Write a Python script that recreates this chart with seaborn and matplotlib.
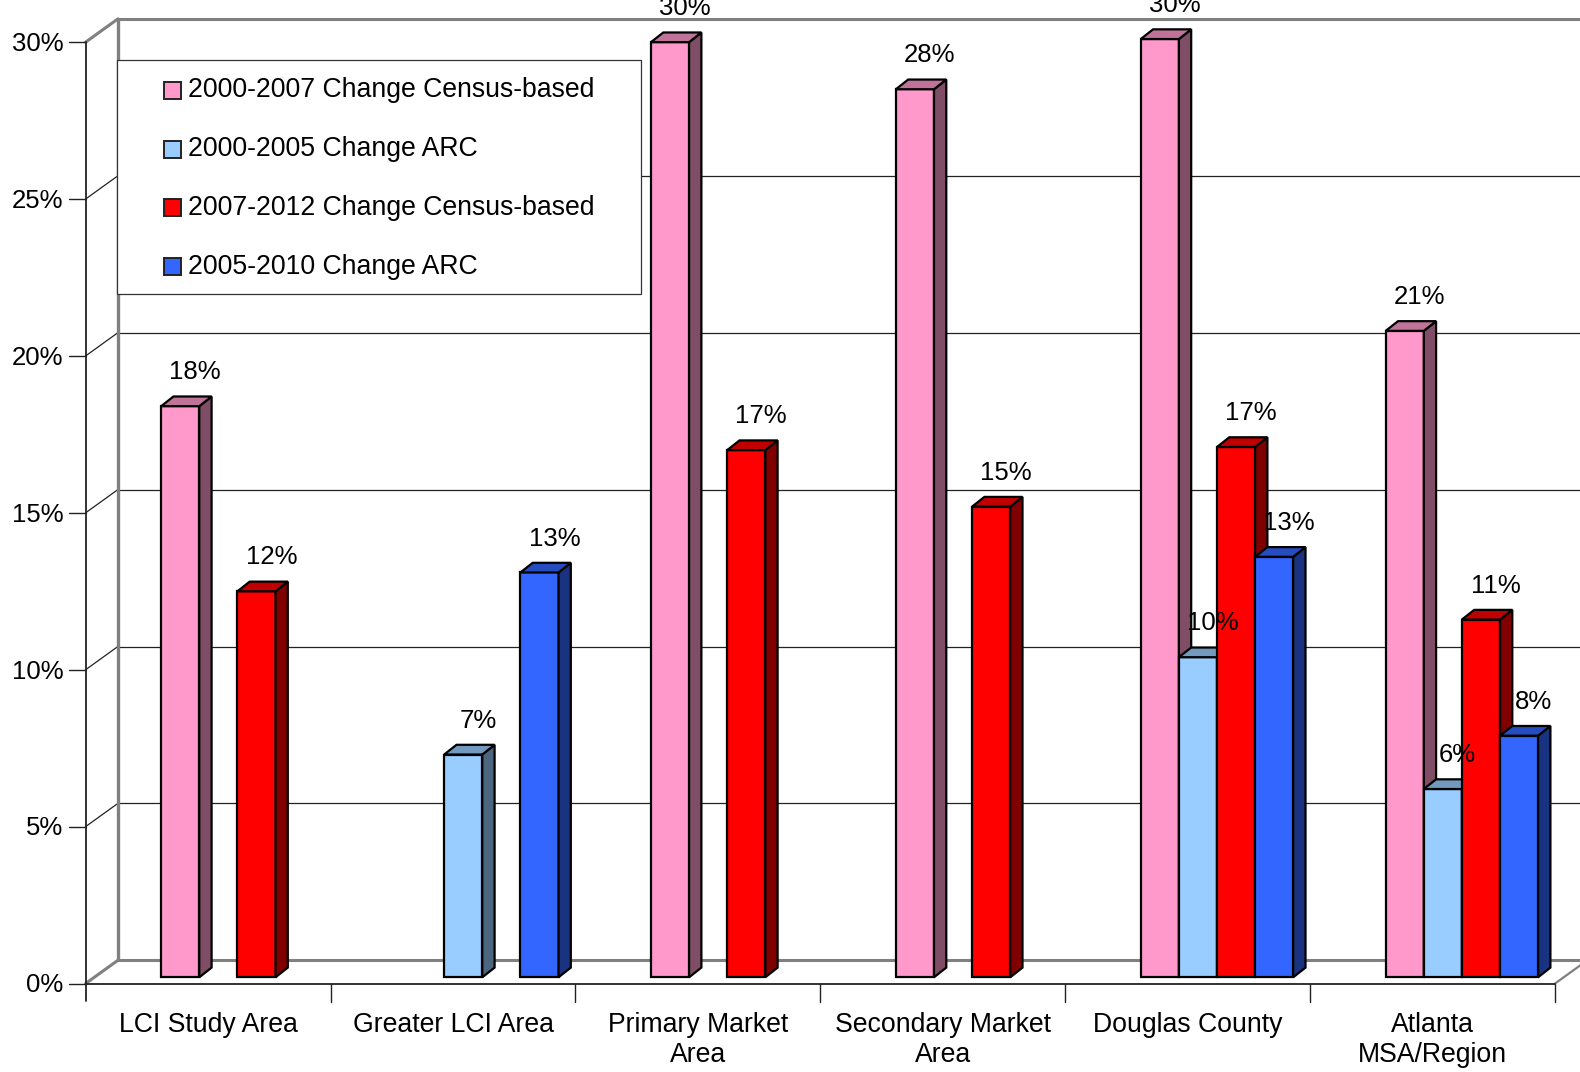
import numpy as np
import pandas as pd
import matplotlib
matplotlib.use("Agg")
import matplotlib.pyplot as plt
import matplotlib.colors as mcolors
from matplotlib.patches import Polygon, Rectangle
import seaborn as sns

# ---------------- data ----------------
categories = ["LCI Study Area", "Greater LCI Area", "Primary Market\nArea",
              "Secondary Market\nArea", "Douglas County", "Atlanta\nMSA/Region"]
series = ["2000-2007 Change Census-based", "2000-2005 Change ARC",
          "2007-2012 Change Census-based", "2005-2010 Change ARC"]
census_00_07 = [18.2, None, 29.8, 28.3, 29.9, 20.6]
arc_00_05 = [None, 7.1, None, None, 10.2, 6.0]
census_07_12 = [12.3, None, 16.8, 15.0, 16.9, 11.4]
arc_05_10 = [None, 12.9, None, None, 13.4, 7.7]
y_ticks = [0, 5, 10, 15, 20, 25, 30]

front_colors = ["#FF99CC", "#99CCFF", "#FF0000", "#3366FF"]
side_colors = ["#804D66", "#4D6680", "#800000", "#1A3380"]
top_colors = ["#C07399", "#7399BF", "#C00000", "#264DBF"]

rows = []
for s, vals in zip(series, [census_00_07, arc_00_05, census_07_12, arc_05_10]):
    for c, v in zip(categories, vals):
        if v is not None:
            rows.append({"category": c, "series": s, "value": v})
df = pd.DataFrame(rows)

# ---------------- style ----------------
sns.set_theme(style="white")
plt.rcParams["font.family"] = ["Liberation Sans", "DejaVu Sans"]
FS = 18.5
FS_CAT = 19.2
FS_LEG = 19.2

W, H = 1580, 1072
fig = plt.figure(figsize=(W / 100, H / 100), dpi=100)
ax = fig.add_axes([0, 0, 1, 1])

sns.barplot(data=df, x="category", y="value", hue="series", order=categories,
            hue_order=series, palette=front_colors, width=0.6224, dodge=True,
            errorbar=None, edgecolor="black", linewidth=1.6, saturation=1,
            legend=False, ax=ax)

# pixel-exact mapping of data space
PXU, PYU = 244.9, 31.38
X0PIX, Y0PIX = 237.4, 977.3
ax.set_xlim(-X0PIX / PXU, (W - X0PIX) / PXU)
ax.set_ylim((Y0PIX - H) / PYU, Y0PIX / PYU)
ax.axis("off")

# 3D geometry (data units)
DX, DY = 12.3 / PXU, 9.7 / PYU          # bar depth
FX, FY = -0.1196, -0.1976               # front plane relative to bar plane
WX, WY = 0.1315, 0.739                  # wall depth
n = len(categories)
lf = -0.5 + FX
rf = n - 0.5 + FX

# bars: sides and tops
bars = sorted(list(ax.patches), key=lambda p: p.get_x())
front_rgba = [mcolors.to_rgba(c) for c in front_colors]
for k, b in enumerate(bars):
    x0, w, h = b.get_x(), b.get_width(), b.get_height()
    fc = b.get_facecolor()
    idx = int(np.argmin([sum((a - bb) ** 2 for a, bb in zip(fc, c)) for c in front_rgba]))
    z = 10 + 2 * k
    b.set_zorder(z)
    b.set_joinstyle("miter")
    side = Polygon([(x0 + w, 0), (x0 + w + DX, DY), (x0 + w + DX, h + DY), (x0 + w, h)],
                   closed=True, facecolor=side_colors[idx], edgecolor="black",
                   lw=1.6, joinstyle="miter", zorder=z + 1)
    top = Polygon([(x0, h), (x0 + DX, h + DY), (x0 + w + DX, h + DY), (x0 + w, h)],
                  closed=True, facecolor=top_colors[idx], edgecolor="black",
                  lw=1.6, joinstyle="miter", zorder=z + 1)
    ax.add_patch(side)
    ax.add_patch(top)
    ax.text(x0 + w / 2 + 0.061, h + 0.86, f"{round(h):.0f}%", ha="center",
            va="baseline", fontsize=FS, color="black", zorder=200)

# walls / gridlines
far = rf + WX + 0.5
for t in y_ticks:
    yb = t + FY + WY
    if t in (0, 30):
        col, lw = "#808080", 2.2
    else:
        col, lw = "#222222", 0.9
    ax.plot([lf + WX, far], [yb, yb], color=col, lw=lw, zorder=2, solid_capstyle="butt")
    ax.plot([lf, lf + WX], [t + FY, yb], color=col, lw=lw, zorder=2)
ax.plot([lf + WX, lf + WX], [FY + WY, 30 + FY + WY], color="#808080", lw=2.4, zorder=2)
ax.plot([rf, rf + WX], [FY, FY + WY], color="#808080", lw=1.6, zorder=2)

# front axis
ax.plot([lf, lf], [FY - 0.55, 30 + FY], color="#222222", lw=1.3, zorder=3)
ax.plot([lf, rf], [FY, FY], color="#222222", lw=1.3, zorder=3)
for k in range(1, n + 1):
    ax.plot([lf + k, lf + k], [FY, FY - 0.6], color="#222222", lw=1.0, zorder=3)
for t in y_ticks:
    ax.plot([lf - 0.07, lf], [t + FY, t + FY], color="#222222", lw=1.0, zorder=3)
    ax.text(lf - 0.09, t + FY - 0.06, f"{t}%", ha="right", va="center", fontsize=FS,
            color="black", zorder=3)

for i, c in enumerate(categories):
    ax.text(i + FX, FY - 0.90, c, ha="center", va="top", fontsize=FS_CAT,
            multialignment="center", linespacing=1.2, color="black")

# legend
def fx(px):
    return px / W

def fy(py):
    return 1 - py / H

fig.add_artist(Rectangle((fx(116.7), fy(294.3)), (641 - 116.7) / W, (294.3 - 60) / H,
                         transform=fig.transFigure, facecolor="white",
                         edgecolor="#333333", lw=0.9, zorder=50))
row_y = [90.2, 149.0, 207.8, 266.6]
for s, col, ry in zip(series, front_colors, row_y):
    fig.add_artist(Rectangle((fx(164), fy(ry + 8.5)), 17 / W, 17 / H,
                             transform=fig.transFigure, facecolor=col,
                             edgecolor="#222222", lw=1.4, zorder=51))
    fig.text(fx(187.5), fy(ry), s, ha="left", va="center", fontsize=FS_LEG,
             color="black", zorder=52)

fig.savefig("out.png", dpi=100)
